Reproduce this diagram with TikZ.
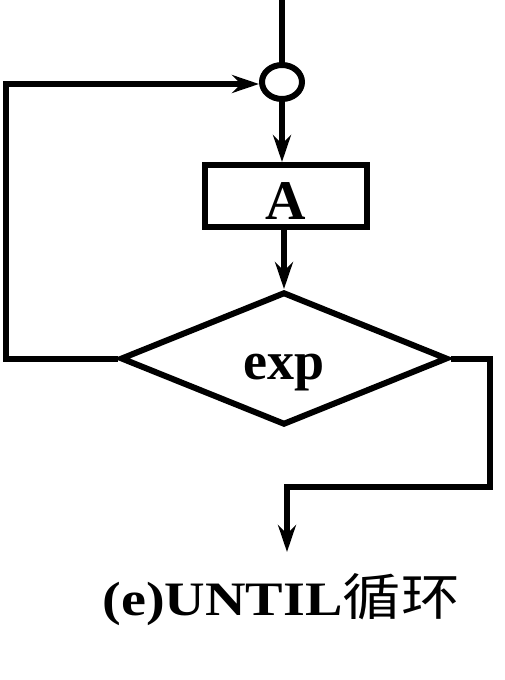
\documentclass[tikz,border=0pt]{standalone}
\usepackage{fontspec}
\setmainfont{Liberation Serif}
\newfontfamily\cjk{Noto Sans CJK SC}
\usetikzlibrary{shapes.geometric, arrows.meta, positioning}

\begin{document}
\begin{tikzpicture}[
  x=1pt, y=-1pt,
  line width=6pt,
  joint/.style={ellipse, draw, minimum width=40pt, minimum height=34pt, inner sep=0pt},
  box/.style={rectangle, draw, minimum width=162pt, minimum height=62pt, inner sep=0pt,
    text height=47pt, text depth=0pt, font=\fontsize{56}{56}\selectfont\bfseries},
  test/.style={diamond, draw, minimum width=327pt, minimum height=133pt, inner sep=0pt,
    text height=42pt, text depth=0pt, font=\fontsize{54}{54}\selectfont\bfseries},
  arr/.style={-{Stealth[length=27pt, width=18pt, inset=9pt]}, line width=6pt},
  captext/.style={font=\fontsize{48}{48}\selectfont\bfseries, xscale=1.17, anchor=base}
]
  \useasboundingbox (0,0) rectangle (505,680);

  % Nodes
  \node[joint] (c) at (282,82) {};
  \node[box, below=60pt of c, xshift=4pt] (A) {A};
  \node[test, below=59pt of A, xshift=-2pt] (exp) {exp};
  \coordinate (entry) at (282,0);
  \coordinate (loopL) at (6,84);
  \coordinate (bendR) at (490,487);
  \coordinate (exitpt) at (287,552);

  % Paths
  \draw (entry) -- (c);
  \draw[arr] (c) -- (c |- A.north);
  \draw[arr] (A.south -| exp.north) -- (exp.north);
  \draw[arr] (exp.west) -| (loopL) -- (c.west |- loopL);
  \draw[arr] (exp.east) -| (bendR) -| (exitpt);

  % Caption
  \node[captext] (title) at (281,615) {(e)UNTIL{\cjk\mdseries\fontsize{50}{50}\selectfont 循环}};
\end{tikzpicture}
\end{document}
